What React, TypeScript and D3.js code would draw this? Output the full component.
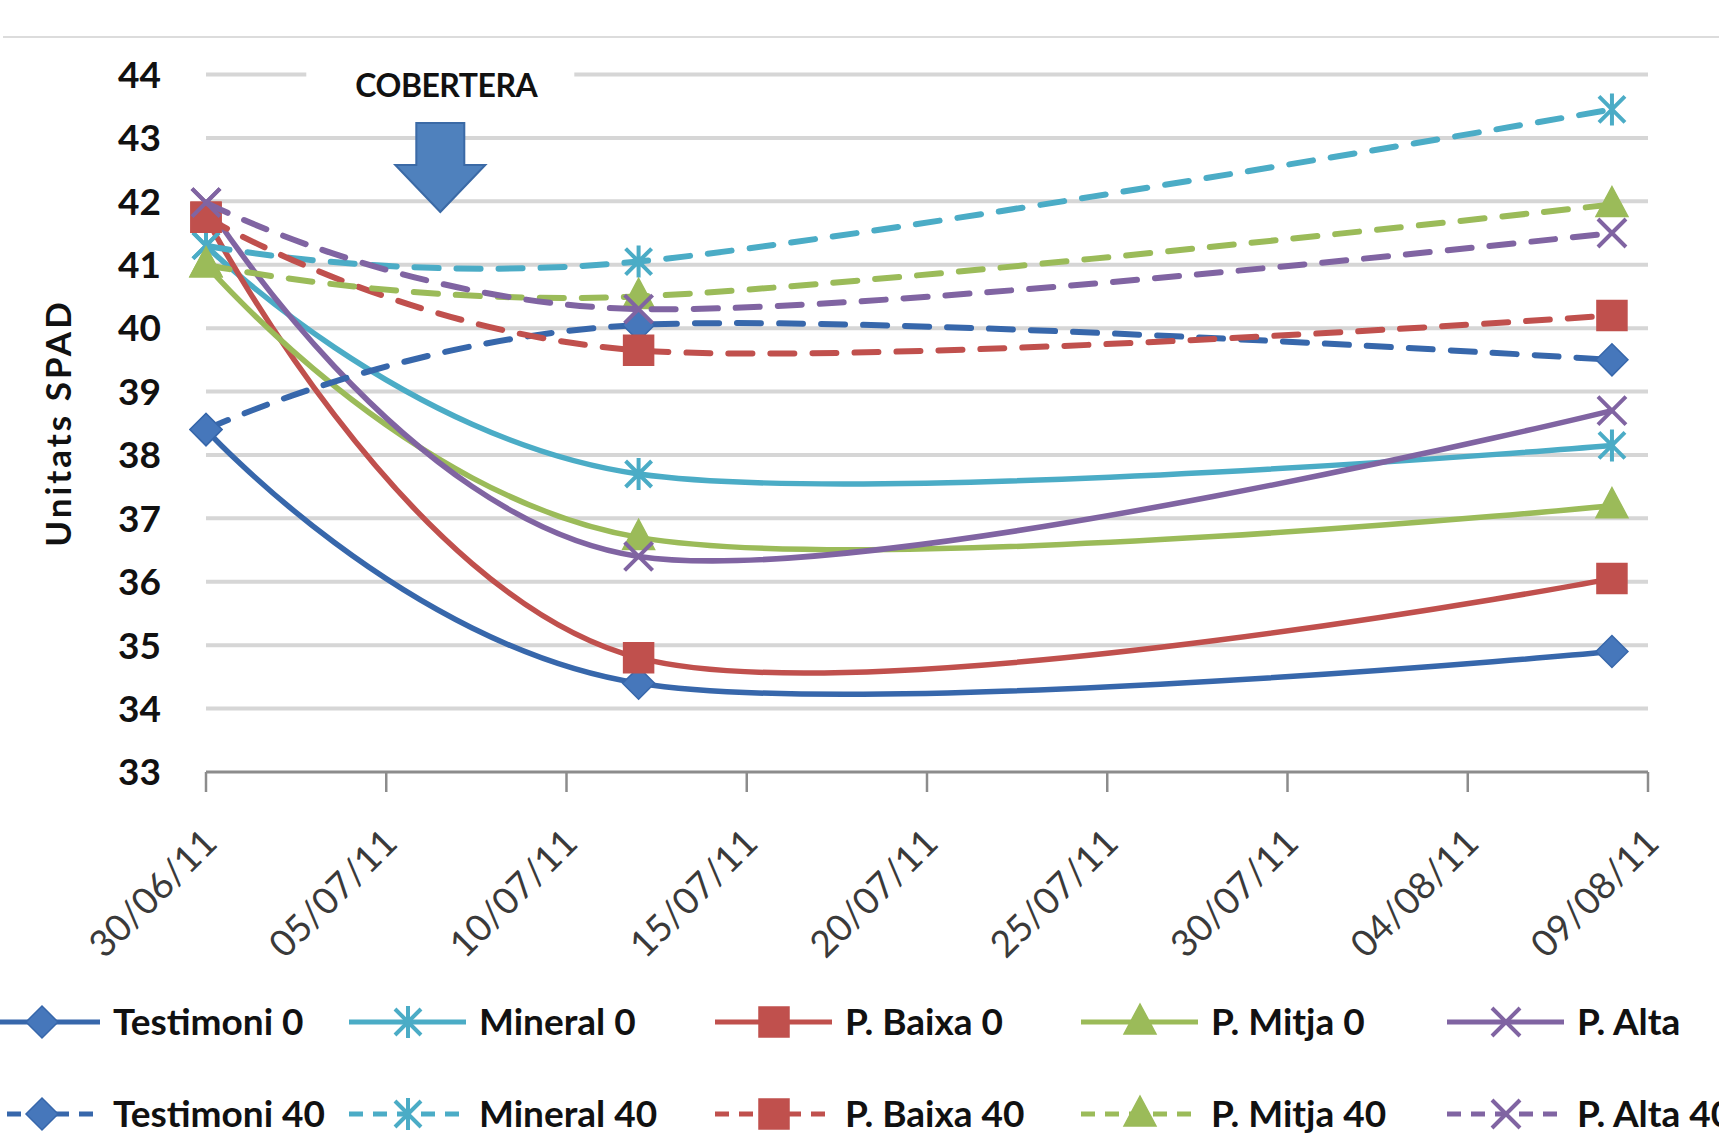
import React, { useEffect, useRef } from 'react';
import * as d3 from 'd3';

// sampling dates and the values
const sampleDates = ['30/06/11', '12/07/11', '08/08/11'];
const tickLabels = ['30/06/11', '05/07/11', '10/07/11', '15/07/11', '20/07/11', '25/07/11', '30/07/11', '04/08/11', '09/08/11'];
const yTicks = [33, 34, 35, 36, 37, 38, 39, 40, 41, 42, 43, 44];

const testimoni0 = [38.4, 34.4, 34.9];
const mineral0 = [41.3, 37.7, 38.15];
const baixa0 = [41.75, 34.8, 36.05];
const mitja0 = [41.0, 36.7, 37.2];
const alta0 = [41.98, 36.4, 38.7];
const testimoni40 = [38.4, 40.05, 39.5];
const mineral40 = [41.3, 41.05, 43.45];
const baixa40 = [41.75, 39.65, 40.2];
const mitja40 = [41.0, 40.5, 41.95];
const alta40 = [41.98, 40.3, 41.5];

const seriesNames = ['Testimoni 0', 'Mineral 0', 'P. Baixa 0', 'P. Mitja 0', 'P. Alta', 'Testimoni 40', 'Mineral 40', 'P. Baixa 40', 'P. Mitja 40', 'P. Alta 40'];
const seriesValues = [testimoni0, mineral0, baixa0, mitja0, alta0, testimoni40, mineral40, baixa40, mitja40, alta40];
const seriesColors = ['#3767ab', '#4BACC6', '#C0504D', '#9BBB59', '#8064A2'];
const seriesMarkers = ['diamond', 'asterisk', 'square', 'triangle', 'x'];

const coberteraDate = '06/07/11';
const FONT = 'Lato, "Open Sans", "Liberation Sans", sans-serif';

function markerPath(type: string) {
  if (type === 'diamond') return 'M0,-16L16,0L0,16L-16,0Z';
  if (type === 'square') return 'M-15,-15H15V15H-15Z';
  if (type === 'triangle') return 'M0,-18L16,12L-16,12Z';
  if (type === 'x') return 'M-14,-14L14,14M-14,14L14,-14';
  return 'M-13,-13L13,13M-13,13L13,-13M0,-16V16';
}

function drawMarker(g: any, type: string, color: string, cx: number, cy: number) {
  const filled = type === 'diamond' || type === 'square' || type === 'triangle';
  g.append('path')
    .attr('d', markerPath(type))
    .attr('transform', `translate(${cx},${cy})`)
    .attr('fill', filled ? (type === 'diamond' ? '#4677bb' : color) : 'none')
    .attr('stroke', color)
    .attr('stroke-width', filled ? 1.5 : 4);
}

export default function App() {
  const svgRef = useRef<SVGSVGElement>(null);

  useEffect(() => {
    if (!svgRef.current) return;
    const svg = d3.select(svgRef.current);
    svg.selectAll('*').remove();

    const width = 1719;
    const height = 1148;
    const parse = d3.timeParse('%d/%m/%y');

    svg.attr('width', width).attr('height', height);
    svg.append('rect').attr('width', width).attr('height', height).attr('fill', '#fff');

    const x = d3.scaleTime()
      .domain([parse(tickLabels[0])!, parse(tickLabels[tickLabels.length - 1])!])
      .range([206, 1648]);
    const y = d3.scaleLinear().domain([33, 44]).range([772, 74.5]);

    // top separator
    svg.append('line')
      .attr('x1', 3).attr('x2', width).attr('y1', 37).attr('y2', 37)
      .attr('stroke', '#dcdcdc').attr('stroke-width', 2);

    // gridlines
    yTicks.filter(t => t > 33).forEach(t => {
      svg.append('line')
        .attr('x1', x.range()[0]).attr('x2', x.range()[1])
        .attr('y1', y(t)).attr('y2', y(t))
        .attr('stroke', '#d6d6d6').attr('stroke-width', 4);
    });

    // x axis
    svg.append('line')
      .attr('x1', x.range()[0]).attr('x2', x.range()[1])
      .attr('y1', y(33)).attr('y2', y(33))
      .attr('stroke', '#8c8c8c').attr('stroke-width', 3);

    tickLabels.forEach(lbl => {
      const tx = x(parse(lbl)!);
      svg.append('line')
        .attr('x1', tx).attr('x2', tx)
        .attr('y1', y(33)).attr('y2', y(33) + 20)
        .attr('stroke', '#8c8c8c').attr('stroke-width', 2.5);
      svg.append('text')
        .attr('transform', `translate(${tx + 4},${y(33) + 64}) rotate(-45)`)
        .attr('text-anchor', 'end')
        .attr('dy', '0.35em')
        .style('font-family', FONT)
        .style('font-size', '37px')
        .style('fill', '#3a3a3a')
        .text(lbl);
    });

    // y tick labels
    yTicks.forEach(t => {
      svg.append('text')
        .attr('x', 161)
        .attr('y', y(t))
        .attr('dy', '0.36em')
        .attr('text-anchor', 'end')
        .style('font-family', FONT)
        .style('font-weight', '700')
        .style('font-size', '37px')
        .style('fill', '#111')
        .text(String(t));
    });

    // y axis title
    svg.append('text')
      .attr('transform', `translate(58,423) rotate(-90)`)
      .attr('text-anchor', 'middle')
      .attr('dy', '0.36em')
      .style('font-family', FONT)
      .style('font-weight', '700')
      .style('font-size', '35px')
      .style('letter-spacing', '3px')
      .style('fill', '#111')
      .text('Unitats SPAD');

    // COBERTERA annotation
    const cx = x(parse(coberteraDate)!) + 18;
    svg.append('rect')
      .attr('x', cx - 134).attr('y', 58).attr('width', 268).attr('height', 50)
      .attr('fill', '#fff');
    svg.append('text')
      .attr('x', cx + 6).attr('y', 97)
      .attr('text-anchor', 'middle')
      .style('font-family', FONT)
      .style('font-weight', '700')
      .style('font-size', '32px')
      .style('letter-spacing', '-0.5px')
      .style('fill', '#111')
      .text('COBERTERA');
    const arrow = d3.path();
    arrow.moveTo(cx - 24, 123);
    arrow.lineTo(cx + 24, 123);
    arrow.lineTo(cx + 24, 165);
    arrow.lineTo(cx + 45, 165);
    arrow.lineTo(cx, 212);
    arrow.lineTo(cx - 45, 165);
    arrow.lineTo(cx - 24, 165);
    arrow.closePath();
    svg.append('path')
      .attr('d', arrow.toString())
      .attr('fill', '#4F81BD')
      .attr('stroke', '#3b6aa6')
      .attr('stroke-width', 2);

    // series
    const line = d3.line<[Date, number]>()
      .x(d => x(d[0]))
      .y(d => y(d[1]))
      .curve(d3.curveCardinal.tension(0));

    const dates = sampleDates.map(s => parse(s)!);

    seriesValues.forEach((vals, i) => {
      const k = i % 5;
      const dashed = i >= 5;
      const color = seriesColors[k];
      const pts = dates.map((d, j) => [d, vals[j]] as [Date, number]);
      svg.append('path')
        .attr('d', line(pts))
        .attr('fill', 'none')
        .attr('stroke', color)
        .attr('stroke-width', dashed ? 6 : 5.5)
        .attr('stroke-linecap', 'round')
        .attr('stroke-dasharray', dashed ? '24 18' : null);
      const g = svg.append('g');
      pts.forEach(p => drawMarker(g, seriesMarkers[k], color, x(p[0]), y(p[1])));
    });

    // legend
    seriesNames.forEach((name, i) => {
      const row = i < 5 ? 0 : 1;
      const col = i % 5;
      const ly = row === 0 ? 1022 : 1114;
      const tx = 113 + col * 366;
      const color = seriesColors[col];
      const g = svg.append('g');
      g.append('line')
        .attr('x1', tx - 130).attr('x2', tx - 13)
        .attr('y1', ly).attr('y2', ly)
        .attr('stroke', color)
        .attr('stroke-width', 5)
        .attr('stroke-dasharray', row === 1 ? '14 10' : null);
      drawMarker(g, seriesMarkers[col], color, tx - 71, ly);
      g.append('text')
        .attr('x', tx).attr('y', ly)
        .attr('dy', '0.36em')
        .style('font-family', FONT)
        .style('font-weight', '700')
        .style('font-size', '37px')
        .style('fill', '#111')
        .text(name);
    });
  }, []);

  return (
    <div style={{ position: 'absolute', left: 0, top: 0 }}>
      <svg ref={svgRef} style={{ display: 'block' }} />
    </div>
  );
}
